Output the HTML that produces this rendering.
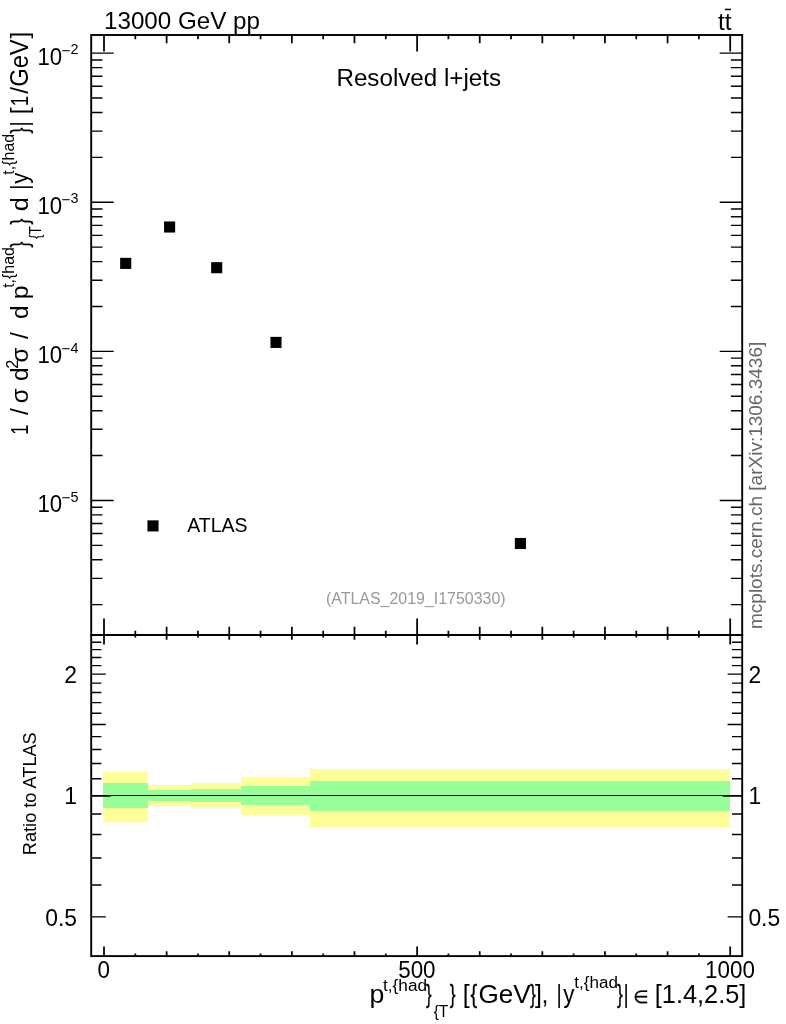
<!DOCTYPE html>
<html lang="en"><head><meta charset="utf-8"><title>ttbar Resolved l+jets</title>
<style>html,body{margin:0;padding:0;background:#fff}svg{display:block}</style></head>
<body>
<svg width="786" height="1024" viewBox="0 0 786 1024" font-family="'Liberation Sans', Arial, Helvetica, sans-serif">
<rect width="786" height="1024" fill="#fff"/>
<g>
<rect x="103" y="772" width="45" height="50.39999999999998" fill="#ffff99"/>
<rect x="148" y="785" width="43" height="21" fill="#ffff99"/>
<rect x="191" y="783" width="50" height="25" fill="#ffff99"/>
<rect x="241" y="777" width="69" height="38" fill="#ffff99"/>
<rect x="310" y="769" width="420" height="58" fill="#ffff99"/>
<rect x="103" y="783" width="45" height="25" fill="#99ff99"/>
<rect x="148" y="790" width="43" height="11" fill="#99ff99"/>
<rect x="191" y="789" width="50" height="13" fill="#99ff99"/>
<rect x="241" y="786" width="69" height="19" fill="#99ff99"/>
<rect x="310" y="781" width="420" height="30" fill="#99ff99"/>
</g>
<line x1="91.2" y1="795.5" x2="742.2" y2="795.5" stroke="#000" stroke-width="1.05"/>
<path d="M91.20 53.15L113.70 53.15M742.20 53.15L719.70 53.15M91.20 202.25L113.70 202.25M742.20 202.25L719.70 202.25M91.20 157.37L102.50 157.37M742.20 157.37L730.90 157.37M91.20 131.11L102.50 131.11M742.20 131.11L730.90 131.11M91.20 112.48L102.50 112.48M742.20 112.48L730.90 112.48M91.20 98.03L102.50 98.03M742.20 98.03L730.90 98.03M91.20 86.23L102.50 86.23M742.20 86.23L730.90 86.23M91.20 76.25L102.50 76.25M742.20 76.25L730.90 76.25M91.20 67.60L102.50 67.60M742.20 67.60L730.90 67.60M91.20 59.97L102.50 59.97M742.20 59.97L730.90 59.97M91.20 351.35L113.70 351.35M742.20 351.35L719.70 351.35M91.20 306.47L102.50 306.47M742.20 306.47L730.90 306.47M91.20 280.21L102.50 280.21M742.20 280.21L730.90 280.21M91.20 261.58L102.50 261.58M742.20 261.58L730.90 261.58M91.20 247.13L102.50 247.13M742.20 247.13L730.90 247.13M91.20 235.33L102.50 235.33M742.20 235.33L730.90 235.33M91.20 225.35L102.50 225.35M742.20 225.35L730.90 225.35M91.20 216.70L102.50 216.70M742.20 216.70L730.90 216.70M91.20 209.07L102.50 209.07M742.20 209.07L730.90 209.07M91.20 500.45L113.70 500.45M742.20 500.45L719.70 500.45M91.20 455.57L102.50 455.57M742.20 455.57L730.90 455.57M91.20 429.31L102.50 429.31M742.20 429.31L730.90 429.31M91.20 410.68L102.50 410.68M742.20 410.68L730.90 410.68M91.20 396.23L102.50 396.23M742.20 396.23L730.90 396.23M91.20 384.43L102.50 384.43M742.20 384.43L730.90 384.43M91.20 374.45L102.50 374.45M742.20 374.45L730.90 374.45M91.20 365.80L102.50 365.80M742.20 365.80L730.90 365.80M91.20 358.17L102.50 358.17M742.20 358.17L730.90 358.17M91.20 604.67L102.50 604.67M742.20 604.67L730.90 604.67M91.20 578.41L102.50 578.41M742.20 578.41L730.90 578.41M91.20 559.78L102.50 559.78M742.20 559.78L730.90 559.78M91.20 545.33L102.50 545.33M742.20 545.33L730.90 545.33M91.20 533.53L102.50 533.53M742.20 533.53L730.90 533.53M91.20 523.55L102.50 523.55M742.20 523.55L730.90 523.55M91.20 514.90L102.50 514.90M742.20 514.90L730.90 514.90M91.20 507.27L102.50 507.27M742.20 507.27L730.90 507.27M91.20 916.88L105.80 916.88M742.20 916.88L727.60 916.88M91.20 884.95L101.40 884.95M742.20 884.95L732.00 884.95M91.20 857.96L101.40 857.96M742.20 857.96L732.00 857.96M91.20 834.57L101.40 834.57M742.20 834.57L732.00 834.57M91.20 813.95L101.40 813.95M742.20 813.95L732.00 813.95M91.20 796.05L110.80 796.05M742.20 796.05L722.60 796.05M91.20 778.81L101.40 778.81M742.20 778.81L732.00 778.81M91.20 763.57L101.40 763.57M742.20 763.57L732.00 763.57M91.20 749.56L101.40 749.56M742.20 749.56L732.00 749.56M91.20 736.58L101.40 736.58M742.20 736.58L732.00 736.58M91.20 724.50L105.80 724.50M742.20 724.50L727.60 724.50M91.20 713.20L101.40 713.20M742.20 713.20L732.00 713.20M91.20 702.58L101.40 702.58M742.20 702.58L732.00 702.58M91.20 692.57L101.40 692.57M742.20 692.57L732.00 692.57M91.20 683.11L101.40 683.11M742.20 683.11L732.00 683.11M91.20 674.12L105.80 674.12M742.20 674.12L727.60 674.12M91.20 665.58L101.40 665.58M742.20 665.58L732.00 665.58M91.20 657.44L101.40 657.44M742.20 657.44L732.00 657.44M91.20 649.65L101.40 649.65M742.20 649.65L732.00 649.65M91.20 642.20L101.40 642.20M742.20 642.20L732.00 642.20" stroke="#000" stroke-width="1.4" fill="none"/>
<path d="M104.00 35.00L104.00 51.50M104.00 635.00L104.00 618.50M104.00 635.00L104.00 644.50M104.00 956.10L104.00 946.60M135.31 35.00L135.31 39.20M135.31 635.00L135.31 630.80M135.31 635.00L135.31 637.50M135.31 956.10L135.31 953.60M166.62 35.00L166.62 43.30M166.62 635.00L166.62 626.70M166.62 635.00L166.62 639.80M166.62 956.10L166.62 951.30M197.93 35.00L197.93 39.20M197.93 635.00L197.93 630.80M197.93 635.00L197.93 637.50M197.93 956.10L197.93 953.60M229.24 35.00L229.24 43.30M229.24 635.00L229.24 626.70M229.24 635.00L229.24 639.80M229.24 956.10L229.24 951.30M260.55 35.00L260.55 39.20M260.55 635.00L260.55 630.80M260.55 635.00L260.55 637.50M260.55 956.10L260.55 953.60M291.86 35.00L291.86 43.30M291.86 635.00L291.86 626.70M291.86 635.00L291.86 639.80M291.86 956.10L291.86 951.30M323.17 35.00L323.17 39.20M323.17 635.00L323.17 630.80M323.17 635.00L323.17 637.50M323.17 956.10L323.17 953.60M354.48 35.00L354.48 43.30M354.48 635.00L354.48 626.70M354.48 635.00L354.48 639.80M354.48 956.10L354.48 951.30M385.79 35.00L385.79 39.20M385.79 635.00L385.79 630.80M385.79 635.00L385.79 637.50M385.79 956.10L385.79 953.60M417.10 35.00L417.10 51.50M417.10 635.00L417.10 618.50M417.10 635.00L417.10 644.50M417.10 956.10L417.10 946.60M448.41 35.00L448.41 39.20M448.41 635.00L448.41 630.80M448.41 635.00L448.41 637.50M448.41 956.10L448.41 953.60M479.72 35.00L479.72 43.30M479.72 635.00L479.72 626.70M479.72 635.00L479.72 639.80M479.72 956.10L479.72 951.30M511.03 35.00L511.03 39.20M511.03 635.00L511.03 630.80M511.03 635.00L511.03 637.50M511.03 956.10L511.03 953.60M542.34 35.00L542.34 43.30M542.34 635.00L542.34 626.70M542.34 635.00L542.34 639.80M542.34 956.10L542.34 951.30M573.65 35.00L573.65 39.20M573.65 635.00L573.65 630.80M573.65 635.00L573.65 637.50M573.65 956.10L573.65 953.60M604.96 35.00L604.96 43.30M604.96 635.00L604.96 626.70M604.96 635.00L604.96 639.80M604.96 956.10L604.96 951.30M636.27 35.00L636.27 39.20M636.27 635.00L636.27 630.80M636.27 635.00L636.27 637.50M636.27 956.10L636.27 953.60M667.58 35.00L667.58 43.30M667.58 635.00L667.58 626.70M667.58 635.00L667.58 639.80M667.58 956.10L667.58 951.30M698.89 35.00L698.89 39.20M698.89 635.00L698.89 630.80M698.89 635.00L698.89 637.50M698.89 956.10L698.89 953.60M730.20 35.00L730.20 51.50M730.20 635.00L730.20 618.50M730.20 635.00L730.20 644.50M730.20 956.10L730.20 946.60" stroke="#000" stroke-width="1.75" fill="none"/>
<rect x="91.2" y="35.0" width="651.0" height="600.0" fill="none" stroke="#000" stroke-width="1.9"/>
<rect x="91.2" y="635.0" width="651.0" height="321.1" fill="none" stroke="#000" stroke-width="1.9"/>
<rect x="120.15" y="257.85" width="11.1" height="11.1" fill="#000"/>
<rect x="164.05" y="221.45" width="11.1" height="11.1" fill="#000"/>
<rect x="211.15" y="262.15" width="11.1" height="11.1" fill="#000"/>
<rect x="270.45" y="336.85" width="11.1" height="11.1" fill="#000"/>
<rect x="514.85" y="537.95" width="11.1" height="11.1" fill="#000"/>
<rect x="147.45" y="520.35" width="11.1" height="11.1" fill="#000"/>
<text x="104.0" y="28.7" font-size="24.2" text-anchor="start" fill="#000" >13000 GeV pp</text>
<text x="418.8" y="86.1" font-size="24.2" text-anchor="middle" fill="#000" >Resolved l+jets</text>
<text transform="translate(187.2 532.3) scale(1 1.05)" font-size="19.5">ATLAS</text>
<text transform="translate(415.8 604.3) scale(1 1.04)" font-size="15.95" text-anchor="middle" fill="#999">(ATLAS_2019_I1750330)</text>
<text x="718.0" y="29.7" font-size="24.2" text-anchor="start" fill="#000" >tt</text>
<rect x="724.9" y="8.7" width="6" height="1.5" fill="#000"/>
<text transform="translate(762.4 629.0) rotate(-90)" font-size="19.0" fill="#666">mcplots.cern.ch [arXiv:1306.3436]</text>
<text transform="translate(35.9 855.2) rotate(-90) scale(1 1.04)" font-size="18.2" fill="#000">Ratio to ATLAS</text>
<text x="62.2" y="64.75" font-size="23.6" text-anchor="end" fill="#000"  textLength="24.68" lengthAdjust="spacingAndGlyphs">10</text>
<text x="61.5" y="56.05" font-size="15.3" text-anchor="start" fill="#000" >−</text>
<text x="70.5" y="54.35" font-size="15.3" text-anchor="start" fill="#000"  textLength="8.00" lengthAdjust="spacingAndGlyphs">2</text>
<text x="62.2" y="213.85" font-size="23.6" text-anchor="end" fill="#000"  textLength="24.68" lengthAdjust="spacingAndGlyphs">10</text>
<text x="61.5" y="205.15" font-size="15.3" text-anchor="start" fill="#000" >−</text>
<text x="70.5" y="203.45" font-size="15.3" text-anchor="start" fill="#000"  textLength="8.00" lengthAdjust="spacingAndGlyphs">3</text>
<text x="62.2" y="362.95" font-size="23.6" text-anchor="end" fill="#000"  textLength="24.68" lengthAdjust="spacingAndGlyphs">10</text>
<text x="61.5" y="354.25" font-size="15.3" text-anchor="start" fill="#000" >−</text>
<text x="70.5" y="352.55" font-size="15.3" text-anchor="start" fill="#000"  textLength="8.00" lengthAdjust="spacingAndGlyphs">4</text>
<text x="62.2" y="512.05" font-size="23.6" text-anchor="end" fill="#000"  textLength="24.68" lengthAdjust="spacingAndGlyphs">10</text>
<text x="61.5" y="503.35" font-size="15.3" text-anchor="start" fill="#000" >−</text>
<text x="70.5" y="501.65" font-size="15.3" text-anchor="start" fill="#000"  textLength="8.00" lengthAdjust="spacingAndGlyphs">5</text>
<text x="77.0" y="682.92" font-size="23.6" text-anchor="end" fill="#000"  textLength="12.73" lengthAdjust="spacingAndGlyphs">2</text>
<text x="748.4" y="682.92" font-size="23.6" text-anchor="start" fill="#000"  textLength="12.73" lengthAdjust="spacingAndGlyphs">2</text>
<text x="77.0" y="804.30" font-size="23.6" text-anchor="end" fill="#000"  textLength="12.73" lengthAdjust="spacingAndGlyphs">1</text>
<text x="748.4" y="804.30" font-size="23.6" text-anchor="start" fill="#000"  textLength="12.73" lengthAdjust="spacingAndGlyphs">1</text>
<text x="77.0" y="925.68" font-size="23.6" text-anchor="end" fill="#000"  textLength="31.82" lengthAdjust="spacingAndGlyphs">0.5</text>
<text x="748.4" y="925.68" font-size="23.6" text-anchor="start" fill="#000"  textLength="31.82" lengthAdjust="spacingAndGlyphs">0.5</text>
<text x="103.80" y="978.3" font-size="23.6" text-anchor="middle" fill="#000"  textLength="12.47" lengthAdjust="spacingAndGlyphs">0</text>
<text x="416.90" y="978.3" font-size="23.6" text-anchor="middle" fill="#000"  textLength="37.41" lengthAdjust="spacingAndGlyphs">500</text>
<text x="730.00" y="978.3" font-size="23.6" text-anchor="middle" fill="#000"  textLength="49.88" lengthAdjust="spacingAndGlyphs">1000</text>
<text x="369.47" y="1002.80" font-size="25.0" textLength="14.83" lengthAdjust="spacingAndGlyphs" fill="#000">p</text>
<text x="383.04" y="991.00" font-size="15.6" textLength="44.05" lengthAdjust="spacingAndGlyphs" fill="#000">t,{had</text>
<text x="426.11" y="1002.80" font-size="25.0" textLength="5.61" lengthAdjust="spacingAndGlyphs" stroke="#000" stroke-width="0.3" fill="#000">}</text>
<text transform="translate(433.63 1016.80) scale(1 1.04)" font-size="15.4" textLength="14.72" lengthAdjust="spacingAndGlyphs" fill="#000">{T</text>
<text x="449.69" y="1002.80" font-size="25.0" textLength="5.84" lengthAdjust="spacingAndGlyphs" stroke="#000" stroke-width="0.3" fill="#000">}</text>
<text x="462.65" y="1002.80" font-size="25.0" fill="#000">[</text>
<text x="470.45" y="1002.80" font-size="25.0" textLength="6.68" lengthAdjust="spacingAndGlyphs" stroke="#000" stroke-width="0.3" fill="#000">{</text>
<text transform="translate(478.39 1002.80) scale(1 1.05)" font-size="25.0" textLength="52.30" lengthAdjust="spacingAndGlyphs" fill="#000">GeV</text>
<text x="529.89" y="1002.80" font-size="25.0" textLength="5.84" lengthAdjust="spacingAndGlyphs" stroke="#000" stroke-width="0.3" fill="#000">}</text>
<text x="535.11" y="1002.80" font-size="25.0" fill="#000">]</text>
<text x="541.55" y="1002.80" font-size="25.0" fill="#000">,</text>
<text x="556.60" y="1002.80" font-size="25.0" textLength="5.20" lengthAdjust="spacingAndGlyphs" fill="#000">|</text>
<text x="563.34" y="1002.80" font-size="25.0" textLength="11.21" lengthAdjust="spacingAndGlyphs" fill="#000">y</text>
<text x="574.34" y="987.50" font-size="15.6" textLength="43.63" lengthAdjust="spacingAndGlyphs" fill="#000">t,{had</text>
<text x="616.99" y="1002.80" font-size="25.0" textLength="5.84" lengthAdjust="spacingAndGlyphs" stroke="#000" stroke-width="0.3" fill="#000">}</text>
<text x="623.40" y="1002.80" font-size="25.0" textLength="5.20" lengthAdjust="spacingAndGlyphs" fill="#000">|</text>
<text x="633.32" y="1002.90" font-size="17.6" textLength="15.18" lengthAdjust="spacingAndGlyphs" font-family="'DejaVu Sans', sans-serif" stroke="#000" stroke-width="0.35" fill="#000">∈</text>
<text x="654.72" y="1002.80" font-size="25.0" textLength="91.69" lengthAdjust="spacingAndGlyphs" fill="#000">[1.4,2.5]</text>
<text transform="translate(28.30 434.75) rotate(-90)" font-size="24.6" textLength="10.03" lengthAdjust="spacingAndGlyphs">1</text>
<text transform="translate(28.30 415.00) rotate(-90)" font-size="24.6">/</text>
<text transform="translate(28.30 403.33) rotate(-90)" font-size="24.6" textLength="14.99" lengthAdjust="spacingAndGlyphs">σ</text>
<text transform="translate(28.30 380.94) rotate(-90)" font-size="24.6" textLength="13.60" lengthAdjust="spacingAndGlyphs">d</text>
<text transform="translate(17.90 368.81) rotate(-90)" font-size="16.0" textLength="9.05" lengthAdjust="spacingAndGlyphs">2</text>
<text transform="translate(28.30 362.53) rotate(-90)" font-size="24.6" textLength="14.99" lengthAdjust="spacingAndGlyphs">σ</text>
<text transform="translate(28.30 339.00) rotate(-90)" font-size="24.6">/</text>
<text transform="translate(28.30 318.94) rotate(-90)" font-size="24.6" textLength="13.60" lengthAdjust="spacingAndGlyphs">d</text>
<text transform="translate(28.30 299.32) rotate(-90)" font-size="24.6" textLength="13.84" lengthAdjust="spacingAndGlyphs">p</text>
<text transform="translate(14.10 287.84) rotate(-90)" font-size="16.0" textLength="40.85" lengthAdjust="spacingAndGlyphs">t,{had</text>
<text transform="translate(28.30 247.41) rotate(-90)" font-size="24.6" textLength="5.84" lengthAdjust="spacingAndGlyphs" stroke="#000" stroke-width="0.3">}</text>
<text transform="translate(40.90 239.04) rotate(-90) scale(1 1.05)" font-size="16.0" textLength="12.84" lengthAdjust="spacingAndGlyphs">{T</text>
<text transform="translate(28.30 224.61) rotate(-90)" font-size="24.6" textLength="5.95" lengthAdjust="spacingAndGlyphs" stroke="#000" stroke-width="0.3">}</text>
<text transform="translate(28.30 211.28) rotate(-90)" font-size="24.6" textLength="14.09" lengthAdjust="spacingAndGlyphs">d</text>
<text transform="translate(28.30 189.80) rotate(-90)" font-size="24.6" textLength="5.20" lengthAdjust="spacingAndGlyphs">|</text>
<text transform="translate(28.30 183.76) rotate(-90)" font-size="24.6" textLength="11.11" lengthAdjust="spacingAndGlyphs">y</text>
<text transform="translate(14.10 174.64) rotate(-90)" font-size="16.0" textLength="40.75" lengthAdjust="spacingAndGlyphs">t,{had</text>
<text transform="translate(28.30 133.41) rotate(-90)" font-size="24.6" textLength="5.84" lengthAdjust="spacingAndGlyphs" stroke="#000" stroke-width="0.3">}</text>
<text transform="translate(28.30 126.50) rotate(-90)" font-size="24.6" textLength="5.20" lengthAdjust="spacingAndGlyphs">|</text>
<text transform="translate(28.30 114.22) rotate(-90)" font-size="24.6">[</text>
<text transform="translate(28.30 106.29) rotate(-90)" font-size="24.6" textLength="10.29" lengthAdjust="spacingAndGlyphs">1</text>
<text transform="translate(28.30 93.80) rotate(-90)" font-size="24.6" textLength="6.81" lengthAdjust="spacingAndGlyphs">/</text>
<text transform="translate(28.30 86.79) rotate(-90) scale(1 1.055)" font-size="24.6" textLength="47.47" lengthAdjust="spacingAndGlyphs">GeV</text>
<text transform="translate(28.30 38.38) rotate(-90)" font-size="24.6">]</text>
</svg>
</body></html>
